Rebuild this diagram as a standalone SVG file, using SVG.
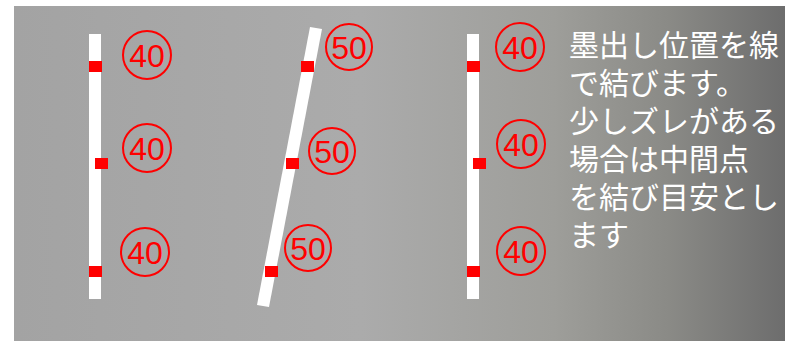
<svg xmlns="http://www.w3.org/2000/svg" width="792" height="341" viewBox="0 0 792 341">
<defs>
<linearGradient id="bg" x1="0" y1="0" x2="1" y2="0">
<stop offset="0" stop-color="#a3a3a3"/>
<stop offset="0.45" stop-color="#ababab"/>
<stop offset="0.7" stop-color="#9e9e9a"/>
<stop offset="0.85" stop-color="#8a8a86"/>
<stop offset="1" stop-color="#6d6d6d"/>
</linearGradient>
<style>
.bar{fill:#ffffff;}
.mk{fill:#ff0000;}
.ring{fill:none;stroke:#ff0000;stroke-width:2;}
.num{fill:#ff0000;font-family:"Liberation Sans",Arial,sans-serif;font-size:32px;text-anchor:middle;}
.note{fill:#ffffff;font-family:"Noto Sans CJK JP",sans-serif;font-size:30px;}
</style>
</defs>
<rect x="0" y="0" width="792" height="341" fill="#ffffff"/>
<rect x="14" y="6" width="771" height="335" fill="url(#bg)"/>
<g id="bar-left">
<rect class="bar" x="89" y="34" width="12" height="265"/>
<rect class="mk" x="89" y="61" width="13" height="11"/>
<rect class="mk" x="95" y="158" width="13" height="11"/>
<rect class="mk" x="89" y="266" width="13" height="11"/>
</g>
<g id="labels-left">
<circle class="ring" cx="147" cy="55" r="24"/>
<text class="num" x="147" y="67">40</text>
<circle class="ring" cx="147" cy="148" r="24"/>
<text class="num" x="147" y="160">40</text>
<circle class="ring" cx="145" cy="252" r="24"/>
<text class="num" x="145" y="264">40</text>
</g>
<g id="bar-middle">
<polygon class="bar" points="310,27 322,29 269,307 257,305"/>
<rect class="mk" x="301" y="61" width="13" height="11"/>
<rect class="mk" x="286" y="158" width="13" height="11"/>
<rect class="mk" x="265" y="266" width="13" height="11"/>
</g>
<g id="labels-middle">
<circle class="ring" cx="349" cy="47" r="23"/>
<text class="num" x="349" y="59">50</text>
<circle class="ring" cx="332" cy="151" r="23"/>
<text class="num" x="332" y="163">50</text>
<circle class="ring" cx="308" cy="248" r="23"/>
<text class="num" x="308" y="260">50</text>
</g>
<g id="bar-right">
<rect class="bar" x="467" y="34" width="12" height="265"/>
<rect class="mk" x="467" y="61" width="13" height="11"/>
<rect class="mk" x="473" y="158" width="13" height="11"/>
<rect class="mk" x="467" y="266" width="13" height="11"/>
</g>
<g id="labels-right">
<circle class="ring" cx="520" cy="47" r="24"/>
<text class="num" x="520" y="59">40</text>
<circle class="ring" cx="521" cy="144" r="24"/>
<text class="num" x="521" y="156">40</text>
<circle class="ring" cx="521" cy="251" r="24"/>
<text class="num" x="521" y="263">40</text>
</g>
<g id="note">
<text class="note" x="569" y="56">墨出し位置を線</text>
<text class="note" x="569" y="94">で結びます。</text>
<text class="note" x="569" y="132">少しズレがある</text>
<text class="note" x="569" y="170">場合は中間点</text>
<text class="note" x="569" y="208">を結び目安とし</text>
<text class="note" x="569" y="246">ます</text>
</g>
</svg>
